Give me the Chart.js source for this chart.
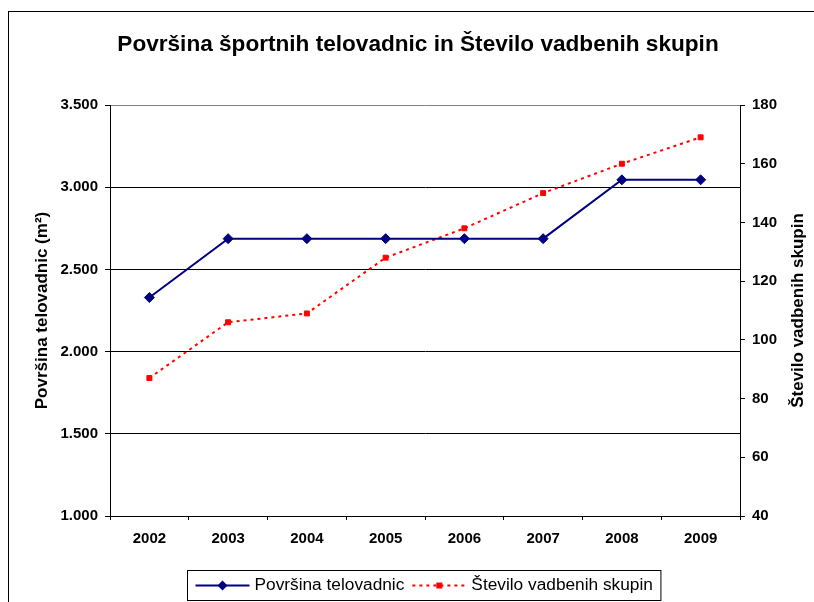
<!DOCTYPE html>
<html>
<head>
<meta charset="utf-8">
<title>Površina športnih telovadnic in Število vadbenih skupin</title>
<script src="https://cdn.jsdelivr.net/npm/chart.js@4/dist/chart.umd.min.js"></script>
<style>
    body { margin: 0; background: #fff; overflow: hidden; }
    #wrap { position: relative; width: 814px; height: 602px; }
    #frame { position: absolute; left: 8px; top: 11px; width: 900px; height: 700px; border: 1px solid #000; }
    #chart { position: absolute; left: 0; top: 0; }
</style>
</head>
<body>
<div id="wrap">
    <div id="frame"></div>
    <canvas id="chart" width="814" height="602"></canvas>
</div>
<script>
// Chart data
const years = ['2002', '2003', '2004', '2005', '2006', '2007', '2008', '2009'];
const gymArea = [2329, 2687, 2687, 2687, 2687, 2687, 3045, 3045];
const groupCount = [87, 106, 109, 128, 138, 150, 160, 169];

// Axis ranges
const areaTicks = [1000, 3500, 500];   // min, max, step
const groupTicks = [40, 180, 20];

const chartTitle = 'Površina športnih telovadnic in Število vadbenih skupin';
const leftAxisTitle = 'Površina telovadnic (m²)';
const rightAxisTitle = 'Število vadbenih skupin';

const FONT = 'Arial, "Liberation Sans", sans-serif';

Chart.defaults.font.family = FONT;
Chart.defaults.color = '#000';

// thousands separator as in the original (3.500)
function formatThousands(value) {
    return String(value).replace(/\B(?=(\d{3})+$)/g, '.');
}

// Legend in a framed box, line sample with marker like Excel
const boxLegend = {
    id: 'boxLegend',
    afterDraw(chart) {
        const ctx = chart.ctx;
        const sets = chart.data.datasets;
        const sample = 54, gap = 5, pad = 8;
        ctx.save();
        ctx.font = '17.3px ' + FONT;
        let width = pad;
        sets.forEach(ds => {
            width += sample + gap + ctx.measureText(ds.label).width + pad;
        });
        const top = 570.5, height = 30, cy = top + height / 2;
        let x = Math.round(424 - width / 2) + 0.5;
        ctx.strokeStyle = '#000';
        ctx.lineWidth = 1;
        ctx.strokeRect(x, top, width, height);
        x += pad;
        sets.forEach(ds => {
            ctx.strokeStyle = ds.borderColor;
            ctx.lineWidth = ds.borderWidth;
            ctx.setLineDash(ds.borderDash || []);
            ctx.beginPath();
            ctx.moveTo(x, cy);
            ctx.lineTo(x + sample, cy);
            ctx.stroke();
            ctx.setLineDash([]);

            const mx = x + sample / 2;
            ctx.fillStyle = ds.pointBackgroundColor;
            ctx.beginPath();
            if (ds.pointStyle === 'rectRot') {
                ctx.moveTo(mx - 5, cy);
                ctx.lineTo(mx, cy - 5);
                ctx.lineTo(mx + 5, cy);
                ctx.lineTo(mx, cy + 5);
                ctx.closePath();
            } else {
                ctx.rect(mx - 3, cy - 3, 6, 6);
            }
            ctx.fill();

            ctx.fillStyle = '#000';
            ctx.textAlign = 'left';
            ctx.textBaseline = 'middle';
            ctx.fillText(ds.label, x + sample + gap, cy);
            x += sample + gap + ctx.measureText(ds.label).width + pad;
        });
        ctx.restore();
    }
};

// Right axis title reads bottom-to-top in the original
const rightTitle = {
    id: 'rightTitle',
    afterDraw(chart) {
        const ctx = chart.ctx;
        const area = chart.chartArea;
        const scale = chart.scales.y1;
        ctx.save();
        ctx.translate(scale.right - 16, (area.top + area.bottom) / 2);
        ctx.rotate(-Math.PI / 2);
        ctx.font = 'bold 17px ' + FONT;
        ctx.fillStyle = '#000';
        ctx.textAlign = 'center';
        ctx.textBaseline = 'middle';
        ctx.fillText(rightAxisTitle, 0, 0);
        ctx.restore();
    }
};

new Chart(document.getElementById('chart').getContext('2d'), {
    type: 'line',
    data: {
        labels: years,
        datasets: [
            {
                label: 'Površina telovadnic',
                data: gymArea,
                yAxisID: 'y',
                borderColor: '#000080',
                backgroundColor: '#000080',
                pointBackgroundColor: '#000080',
                pointBorderColor: '#000080',
                borderWidth: 2,
                pointStyle: 'rectRot',
                pointRadius: 5,
                pointBorderWidth: 1,
                tension: 0,
                fill: false
            },
            {
                label: 'Število vadbenih skupin',
                data: groupCount,
                yAxisID: 'y1',
                borderColor: '#ff0000',
                backgroundColor: '#ff0000',
                pointBackgroundColor: '#ff0000',
                pointBorderColor: '#ff0000',
                borderWidth: 2,
                borderDash: [3, 4],
                pointStyle: 'rect',
                pointRadius: 3.5,
                pointBorderWidth: 1,
                tension: 0,
                fill: false
            }
        ]
    },
    options: {
        responsive: false,
        animation: false,
        devicePixelRatio: 1,
        layout: {
            padding: { left: 22, right: 0, top: 0, bottom: 46 }
        },
        plugins: {
            legend: { display: false },
            tooltip: { enabled: false },
            title: {
                display: true,
                text: chartTitle,
                color: '#000',
                font: { size: 22.6, weight: 'bold' },
                padding: { top: 31, bottom: 46.9 }
            }
        },
        scales: {
            x: {
                offset: true,
                grid: {
                    offset: true,
                    drawOnChartArea: false,
                    color: '#000',
                    tickLength: 4
                },
                border: { color: '#000', width: 1 },
                ticks: {
                    padding: 10,
                    font: { size: 15, weight: 'bold' }
                },
                afterFit(scale) { scale.height = 40; }
            },
            y: {
                position: 'left',
                min: areaTicks[0],
                max: areaTicks[1],
                grid: {
                    color: c => (c.tick && c.tick.value === areaTicks[1]) ? '#808080' : '#000',
                    tickColor: '#000',
                    tickLength: 5
                },
                border: { color: '#000', width: 1 },
                ticks: {
                    stepSize: areaTicks[2],
                    padding: 7,
                    font: { size: 15, weight: 'bold' },
                    callback: v => formatThousands(v)
                },
                title: {
                    display: true,
                    text: leftAxisTitle,
                    font: { size: 17, weight: 'bold' },
                    padding: { top: 10, bottom: 0 }
                },
                afterFit(scale) { scale.width = 88; }
            },
            y1: {
                position: 'right',
                min: groupTicks[0],
                max: groupTicks[1],
                grid: {
                    drawOnChartArea: false,
                    color: '#000',
                    tickLength: 5
                },
                border: { color: '#000', width: 1 },
                ticks: {
                    stepSize: groupTicks[2],
                    padding: 7,
                    font: { size: 15, weight: 'bold' }
                },
                afterFit(scale) { scale.width = 74; }
            }
        }
    },
    plugins: [boxLegend, rightTitle]
});
</script>
</body>
</html>
